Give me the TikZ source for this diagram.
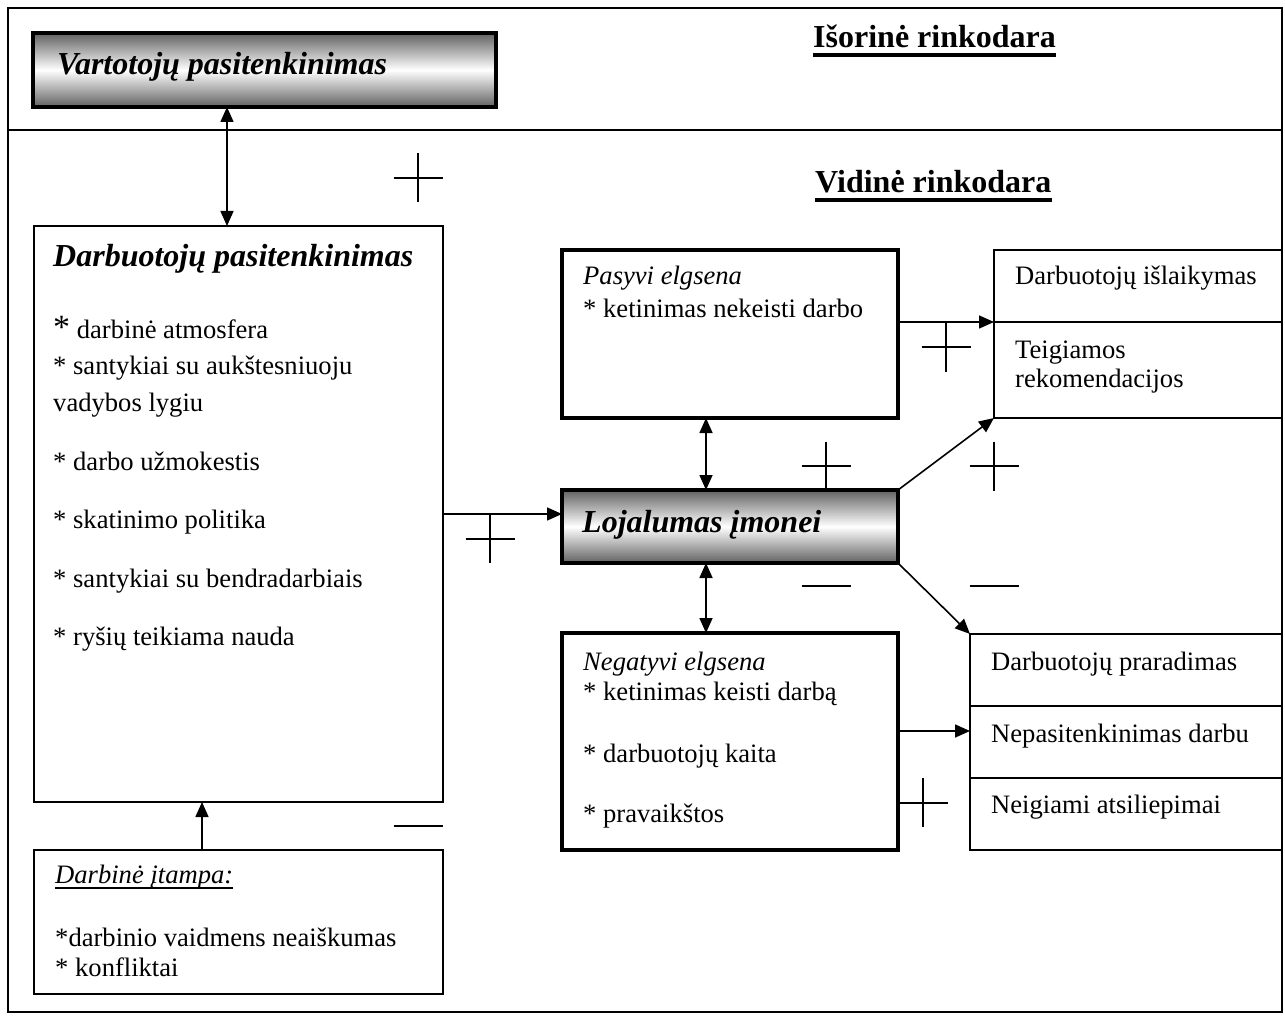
\documentclass[tikz,border=0pt]{standalone}
\usepackage{fontspec}
\setmainfont{Liberation Serif}
\usetikzlibrary{arrows.meta,calc}
\begin{document}
\begin{tikzpicture}[x=1pt,y=-1pt,
  thinbox/.style={draw,line width=2pt,rectangle,inner sep=0pt,outer sep=0pt},
  thickbox/.style={draw,line width=4pt,rectangle,inner sep=0pt,outer sep=0pt},
  shadebox/.style={thickbox,top color=black!62,bottom color=black!62,middle color=white},
  body/.style={anchor=base west,inner sep=0pt,font=\fontsize{26.6}{30}\selectfont},
  ital/.style={body,font=\fontsize{26.6}{30}\selectfont\itshape},
  head/.style={anchor=base west,inner sep=0pt,font=\fontsize{32}{36}\selectfont\bfseries\itshape},
  title/.style={anchor=base west,inner sep=0pt,font=\fontsize{32}{36}\selectfont\bfseries},
  arr/.style={line width=1.6pt,-{Triangle[length=15pt,width=13pt]}},
  dbl/.style={line width=1.6pt,{Triangle[length=15pt,width=13pt]}-{Triangle[length=15pt,width=13pt]}},
  plussign/.pic={\draw[line width=2pt] (-24.5,0)--(24.5,0) (0,-24.5)--(0,24.5);},
  minussign/.pic={\draw[line width=2pt] (-24.5,0)--(24.5,0);}
]
\useasboundingbox (0,0) rectangle (1285,1016);

% outer frame and the line between the two marketing areas
\draw[line width=2pt] (8,8) rectangle (1282,1012);
\draw[line width=2pt] (8,130) -- (1282,130);

% headings
\node[title] (isor) at (813,48) {Išorinė rinkodara};
\draw[line width=3.5pt] ($(isor.base west)+(0,7)$) -- ($(isor.base east)+(0,7)$);
\node[title] (vid) at (815,193) {Vidinė rinkodara};
\draw[line width=3.5pt] ($(vid.base west)+(0,7)$) -- ($(vid.base east)+(0,7)$);

% boxes
\node[shadebox,minimum width=463pt,minimum height=74pt] (vart) at (264.5,70) {};
\node[head] (vartT) at (57,75) {Vartotojų pasitenkinimas};

\node[thinbox,minimum width=409pt,minimum height=576pt] (darb) at (238.5,514) {};
\node[head] (darbT) at (53,267) {Darbuotojų pasitenkinimas};
\node[body] (d1) at (53,338) {{\fontsize{34}{34}\selectfont*} darbinė atmosfera};
\node[body] (d2) at (53,374) {* santykiai su aukštesniuoju};
\node[body] (d3) at (53,411) {vadybos lygiu};
\node[body] (d4) at (53,470) {* darbo užmokestis};
\node[body] (d5) at (53,528) {* skatinimo politika};
\node[body] (d6) at (53,587) {* santykiai su bendradarbiais};
\node[body] (d7) at (53,645) {* ryšių teikiama nauda};

\node[thinbox,minimum width=409pt,minimum height=144pt] (itamp) at (238.5,922) {};
\node[ital] (iT) at (55,883) {Darbinė įtampa:};
\draw[line width=1.5pt] ($(iT.base west)+(0,5)$) -- ($(iT.base east)+(0,5)$);
\node[body] (i1) at (55,946) {*darbinio vaidmens neaiškumas};
\node[body] (i2) at (55,976) {* konfliktai};

\node[thickbox,minimum width=336pt,minimum height=168pt] (pas) at (730,334) {};
\node[ital] (pT) at (583,285) {Pasyvi elgsena};
\node[body] (p1) at (583,317) {* ketinimas nekeisti darbo};

\node[shadebox,minimum width=336pt,minimum height=73pt] (loj) at (730,526.5) {};
\node[head] (lojT) at (582,532) {Lojalumas įmonei};

\node[thickbox,minimum width=336pt,minimum height=217pt] (neg) at (730,741.5) {};
\node[ital] (nT) at (583,670) {Negatyvi elgsena};
\node[body] (n1) at (583,700) {* ketinimas keisti darbą};
\node[body] (n2) at (583,762) {* darbuotojų kaita};
\node[body] (n3) at (583,822) {* pravaikštos};

\node[thinbox,minimum width=288pt,minimum height=72pt] (rt1) at (1138,286) {};
\node[thinbox,minimum width=288pt,minimum height=96pt] (rt2) at (1138,370) {};
\node[body] (rt1T) at (1015,285) {Darbuotojų išlaikymas};
\node[body] (rt2T) at (1015,358) {Teigiamos};
\node[body] (rt2U) at (1015,387) {rekomendacijos};

\node[thinbox,minimum width=312pt,minimum height=72pt] (rb1) at (1126,670) {};
\node[thinbox,minimum width=312pt,minimum height=72pt] (rb2) at (1126,742) {};
\node[thinbox,minimum width=312pt,minimum height=72pt] (rb3) at (1126,814) {};
\node[body] (rb1T) at (991,670) {Darbuotojų praradimas};
\node[body] (rb2T) at (991,742) {Nepasitenkinimas darbu};
\node[body] (rb3T) at (991,813) {Neigiami atsiliepimai};

% connectors
\coordinate (cx1) at (227,0);
\coordinate (cx2) at (202,0);
\coordinate (cx3) at (706,0);
\coordinate (cy1) at (0,514);
\coordinate (cy2) at (0,731);
\draw[dbl] (vart.south -| cx1) -- (darb.north -| cx1);
\draw[arr] (itamp.north -| cx2) -- (darb.south -| cx2);
\draw[arr] (darb.east |- cy1) -- (loj.west |- cy1);
\draw[dbl] (pas.south -| cx3) -- (loj.north -| cx3);
\draw[dbl] (loj.south -| cx3) -- (neg.north -| cx3);
\draw[arr] (pas.east |- rt1.south) -- (rt1.south west);
\draw[arr] (loj.north east) -- (rt2.south west);
\draw[arr] (loj.south east) -- (rb1.north west);
\draw[arr] (neg.east |- cy2) -- (rb2.west |- cy2);

% signs of the relations
\pic at (418,178) {plussign};
\pic at (490,538.5) {plussign};
\pic at (826,466) {plussign};
\pic at (994,466) {plussign};
\pic at (946,347) {plussign};
\pic at (923,802.5) {plussign};
\pic at (826,586) {minussign};
\pic at (994,586) {minussign};
\pic at (418,826) {minussign};
\end{tikzpicture}
\end{document}
